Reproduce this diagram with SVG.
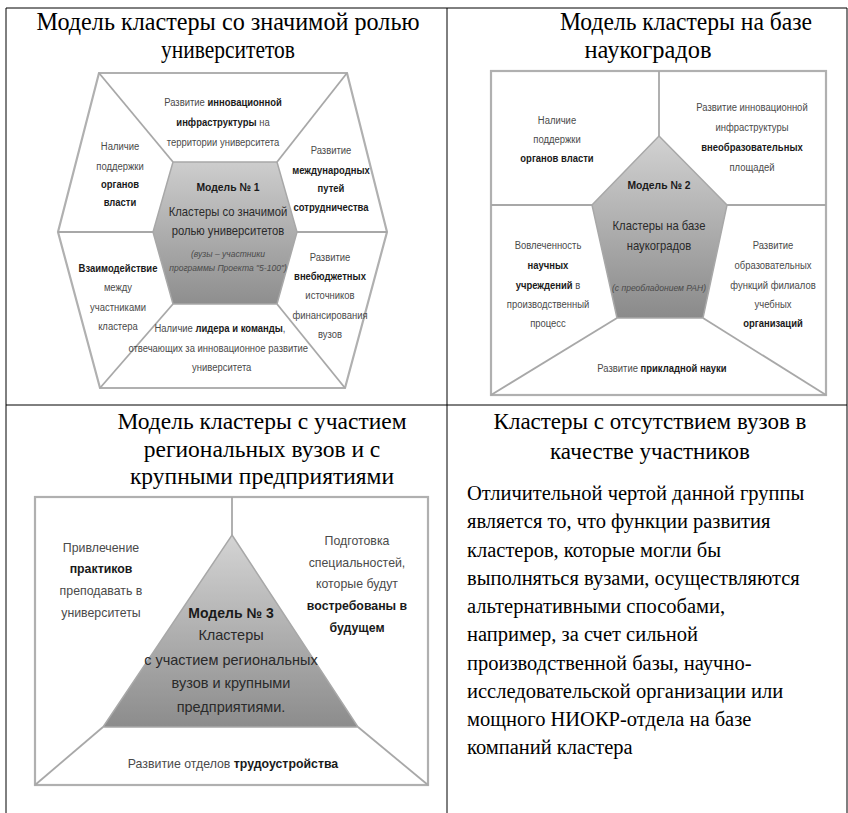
<svg xmlns="http://www.w3.org/2000/svg" width="848" height="813" viewBox="0 0 848 813">
<defs>
<linearGradient id="g1" x1="0" y1="0" x2="0" y2="1"><stop offset="0" stop-color="#cdcdcd"/><stop offset="1" stop-color="#8e8e8e"/></linearGradient>
<linearGradient id="g2" x1="0" y1="0" x2="0" y2="1"><stop offset="0" stop-color="#d2d2d2"/><stop offset="1" stop-color="#8a8a8a"/></linearGradient>
<linearGradient id="g3" x1="0" y1="0" x2="0" y2="1"><stop offset="0" stop-color="#d4d4d4"/><stop offset="1" stop-color="#8c8c8c"/></linearGradient>
</defs>
<style>
.grid{stroke:#000;stroke-width:1;fill:none}
.ln{stroke:#a8a8a8;stroke-width:1.8;fill:none}
.box{stroke:#b0b0b0;stroke-width:2.2;fill:#fff}
.t{font-family:"Liberation Serif","Times New Roman",serif;fill:#000}
.d{font-family:"Liberation Sans",Arial,sans-serif;font-size:11px;fill:#4a4a4a;text-anchor:middle}
.b{font-weight:bold;fill:#1a1a1a}
.i{font-style:italic;font-size:9.5px}
.c{font-size:12.5px;fill:#2a2a2a}
.m{font-size:13px}
.l{font-size:14.5px;fill:#2a2a2a}
</style>
<rect width="848" height="813" fill="#fff"/>
<g id="table">
<line class="grid" x1="6" y1="8" x2="847" y2="8"/>
<line class="grid" x1="6" y1="405" x2="847" y2="405"/>
<line class="grid" x1="6" y1="8" x2="6" y2="813"/>
<line class="grid" x1="447" y1="8" x2="447" y2="813"/>
<line class="grid" x1="847" y1="8" x2="847" y2="813"/>
</g>
<g id="titles">
<text class="t" font-size="25" x="228" y="30" text-anchor="middle" textLength="383" lengthAdjust="spacingAndGlyphs">Модель кластеры со значимой ролью</text>
<text class="t" font-size="25" x="228" y="58" text-anchor="middle" textLength="134" lengthAdjust="spacingAndGlyphs">университетов</text>
<text class="t" font-size="25" x="686" y="30" text-anchor="middle" textLength="252" lengthAdjust="spacingAndGlyphs">Модель кластеры на базе</text>
<text class="t" font-size="25" x="648" y="58" text-anchor="middle" textLength="127" lengthAdjust="spacingAndGlyphs">наукоградов</text>
<text class="t" font-size="23.5" x="262" y="429" text-anchor="middle">Модель кластеры с участием</text>
<text class="t" font-size="23.5" x="262" y="457" text-anchor="middle">региональных вузов и с</text>
<text class="t" font-size="23.5" x="262" y="484" text-anchor="middle">крупными предприятиями</text>
<text class="t" font-size="23" x="650" y="429" text-anchor="middle">Кластеры с отсутствием вузов в</text>
<text class="t" font-size="23" x="650" y="459" text-anchor="middle">качестве участников</text>
</g>
<g id="paragraph" class="t" font-size="20.5">
<text x="467" y="500">Отличительной чертой данной группы</text>
<text x="467" y="528">является то, что функции развития</text>
<text x="467" y="557">кластеров, которые могли бы</text>
<text x="467" y="585">выполняться вузами, осуществляются</text>
<text x="467" y="613">альтернативными способами,</text>
<text x="467" y="641">например, за счет сильной</text>
<text x="467" y="670">производственной базы, научно-</text>
<text x="467" y="698">исследовательской организации или</text>
<text x="467" y="726">мощного НИОКР-отдела на базе</text>
<text x="467" y="754">компаний кластера</text>
</g>

<g id="model1">
<polygon class="box" points="99,73 347,73 387,232 345,388 100,388 58,232"/>
<polygon id="m1-center" points="173,162 277,162 297,232 277,304 173,304 153,232" fill="url(#g1)" stroke="#a8a8a8" stroke-width="1.5"/>
<g id="m1-connectors">
<line class="ln" x1="99" y1="73" x2="173" y2="162"/>
<line class="ln" x1="347" y1="73" x2="277" y2="162"/>
<line class="ln" x1="387" y1="232" x2="297" y2="232"/>
<line class="ln" x1="345" y1="388" x2="277" y2="304"/>
<line class="ln" x1="100" y1="388" x2="173" y2="304"/>
<line class="ln" x1="58" y1="232" x2="153" y2="232"/>
</g>
<g id="m1-top" class="d" transform="matrix(0.86,0,0,1,31.22,0)">
<text x="223" y="106">Развитие <tspan class="b">инновационной</tspan></text>
<text x="223" y="126"><tspan class="b">инфраструктуры</tspan> на</text>
<text x="223" y="146">территории университета</text>
</g>
<g id="m1-left" class="d" transform="matrix(0.86,0,0,1,16.8,0)">
<text x="120" y="150">Наличие</text>
<text x="120" y="170">поддержки</text>
<text x="120" y="188" class="b">органов</text>
<text x="120" y="206" class="b">власти</text>
</g>
<g id="m1-right-top" class="d" transform="matrix(0.86,0,0,1,46.34,0)">
<text x="331" y="154">Развитие</text>
<text x="331" y="174" class="b">международных</text>
<text x="331" y="192" class="b">путей</text>
<text x="331" y="211" class="b">сотрудничества</text>
</g>
<g id="m1-right-bottom" class="d" transform="matrix(0.86,0,0,1,46.2,0)">
<text x="330" y="261">Развитие</text>
<text x="330" y="280" class="b">внебюджетных</text>
<text x="330" y="299">источников</text>
<text x="330" y="319">финансирования</text>
<text x="330" y="338">вузов</text>
</g>
<g id="m1-bottom" class="d" transform="matrix(0.86,0,0,1,30.8,0)">
<text x="220" y="332">Наличие <tspan class="b">лидера и команды</tspan>,</text>
<text x="218" y="352">отвечающих за инновационное развитие</text>
<text x="222" y="371">университета</text>
</g>
<g id="m1-left-bottom" class="d" transform="matrix(0.86,0,0,1,16.52,0)">
<text x="118" y="272" class="b">Взаимодействие</text>
<text x="118" y="291">между</text>
<text x="118" y="311">участниками</text>
<text x="118" y="330">кластера</text>
</g>
<g id="m1-center-text" class="d" transform="matrix(0.9,0,0,1,22.8,0)">
<text x="228" y="191" class="b" font-size="11.5">Модель № 1</text>
<text x="228" y="216" class="c">Кластеры со значимой</text>
<text x="228" y="235" class="c">ролью университетов</text>
<text x="228" y="257" class="i">(вузы – участники</text>
<text x="228" y="271" class="i">программы Проекта "5-100")</text>
</g>
</g>

<g id="model2">
<rect class="box" x="491" y="71" width="335" height="324"/>
<polygon id="m2-center" points="659,136 727,205 703,318 617,318 592,205" fill="url(#g2)" stroke="#a8a8a8" stroke-width="1.5"/>
<g id="m2-connectors">
<line class="ln" x1="659" y1="71" x2="659" y2="136"/>
<line class="ln" x1="491" y1="205" x2="592" y2="205"/>
<line class="ln" x1="826" y1="205" x2="727" y2="205"/>
<line class="ln" x1="617" y1="318" x2="491" y2="395"/>
<line class="ln" x1="703" y1="318" x2="826" y2="395"/>
</g>
<g id="m2-top-left" class="d" transform="matrix(0.86,0,0,1,77.98,0)">
<text x="557" y="124">Наличие</text>
<text x="557" y="143">поддержки</text>
<text x="557" y="162" class="b">органов власти</text>
</g>
<g id="m2-top-right" class="d" transform="matrix(0.86,0,0,1,105.28,0)">
<text x="752" y="111">Развитие инновационной</text>
<text x="752" y="131">инфраструктуры</text>
<text x="752" y="151" class="b">внеобразовательных</text>
<text x="752" y="171">площадей</text>
</g>
<g id="m2-center-text" class="d" transform="matrix(0.9,0,0,1,65.9,0)">
<text x="659" y="189" class="b" font-size="11.5">Модель № 2</text>
<text x="659" y="230" class="c">Кластеры на базе</text>
<text x="659" y="250" class="c">наукоградов</text>
<text x="659" y="291" class="i">(с преобладонием РАН)</text>
</g>
<g id="m2-left" class="d" transform="matrix(0.86,0,0,1,76.72,0)">
<text x="548" y="249">Вовлеченность</text>
<text x="548" y="269" class="b">научных</text>
<text x="548" y="289"><tspan class="b">учреждений</tspan> в</text>
<text x="548" y="308">производственный</text>
<text x="548" y="327">процесс</text>
</g>
<g id="m2-right" class="d" transform="matrix(0.86,0,0,1,108.22,0)">
<text x="773" y="249">Развитие</text>
<text x="773" y="269">образовательных</text>
<text x="773" y="289">функций филиалов</text>
<text x="773" y="308">учебных</text>
<text x="773" y="327" class="b">организаций</text>
</g>
<g id="m2-bottom" class="d" transform="matrix(0.86,0,0,1,92.68,0)">
<text x="662" y="372">Развитие <tspan class="b">прикладной науки</tspan></text>
</g>
</g>

<g id="model3">
<rect class="box" x="35" y="497" width="393" height="288"/>
<polygon id="m3-center" points="232,535 358,727 103,727" fill="url(#g3)" stroke="#a8a8a8" stroke-width="1.5"/>
<g id="m3-connectors">
<line class="ln" x1="232" y1="497" x2="232" y2="535"/>
<line class="ln" x1="103" y1="727" x2="35" y2="785"/>
<line class="ln" x1="358" y1="727" x2="428" y2="785"/>
</g>
<g id="m3-left" class="d m" transform="matrix(0.95,0,0,1,5.05,0)">
<text x="101" y="552">Привлечение</text>
<text x="101" y="573" class="b">практиков</text>
<text x="101" y="595">преподавать в</text>
<text x="101" y="617">университеты</text>
</g>
<g id="m3-right" class="d m" transform="matrix(0.95,0,0,1,17.85,0)">
<text x="357" y="545">Подготовка</text>
<text x="357" y="567">специальностей,</text>
<text x="357" y="588">которые будут</text>
<text x="357" y="610" class="b">востребованы в</text>
<text x="357" y="632" class="b">будущем</text>
</g>
<g id="m3-center-text" class="d l">
<text x="231" y="618" class="b" font-size="14">Модель № 3</text>
<text x="231" y="640">Кластеры</text>
<text x="231" y="665">с участием региональных</text>
<text x="231" y="688">вузов и крупными</text>
<text x="231" y="712">предприятиями.</text>
</g>
<g id="m3-bottom" class="d m" transform="matrix(0.95,0,0,1,11.65,0)">
<text x="233" y="768">Развитие отделов <tspan class="b">трудоустройства</tspan></text>
</g>
</g>
</svg>
